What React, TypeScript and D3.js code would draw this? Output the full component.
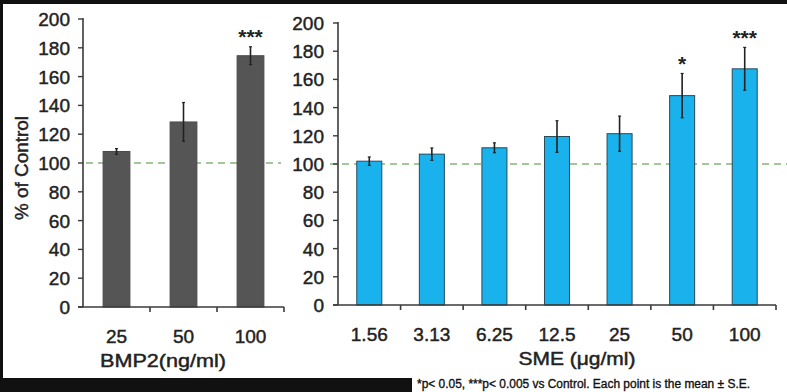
import React from "react";
import * as d3 from "d3";

// BMP2 panel
const bmpDoses = ["25", "50", "100"];
const bmpMean = [108, 128.5, 174.5];
const bmpSE = [2, 13.5, 6.2];
const bmpSig = ["", "", "***"];

// SME panel
const smeDoses = ["1.56", "3.13", "6.25", "12.5", "25", "50", "100"];
const smeMean = [102, 107, 111.5, 119.5, 121.5, 148.5, 167.5];
const smeSE = [3, 4.4, 3.5, 11.2, 12.5, 15.7, 15.2];
const smeSig = ["", "", "", "", "", "*", "***"];

const yTicks = [0, 20, 40, 60, 80, 100, 120, 140, 160, 180, 200];
const controlLevel = 100;

const W = 787;
const H = 392;
const FONT = "'Liberation Sans', Arial, sans-serif";
const INK = "#222";

type PanelProps = {
  doses: string[];
  mean: number[];
  se: number[];
  sig: string[];
  x0: number;
  x1: number;
  yTop: number;
  yBottom: number;
  barColor: string;
  barStroke: string;
  tickLabelRight: number;
  lineX0: number;
  lineX1: number;
  title: string;
  titleX: number;
  titleLength: number;
};

function Panel(p: PanelProps) {
  const y = d3.scaleLinear().domain([0, 200]).range([p.yBottom, p.yTop]);
  const x = d3.scaleBand<string>().domain(p.doses).range([p.x0, p.x1]).padding(0);
  const step = x.step();
  const barW = step * 0.4;
  const axisColor = "#3a3a3a";
  const textStyle = { stroke: INK, strokeWidth: 0.45 };
  return (
    <g>
      {/* control reference line */}
      <line
        x1={p.lineX0}
        x2={p.lineX1}
        y1={y(controlLevel)}
        y2={y(controlLevel)}
        stroke="#a3c79a"
        strokeWidth={2}
        strokeDasharray="7 5"
      />
      {p.doses.map((d, i) => {
        const cx = (x(d) as number) + step / 2;
        const top = y(p.mean[i]);
        const eTop = y(p.mean[i] + p.se[i]);
        const eBot = y(p.mean[i] - p.se[i]);
        return (
          <g key={d}>
            <rect
              x={cx - barW / 2}
              y={top}
              width={barW}
              height={y(0) - top}
              fill={p.barColor}
              stroke={p.barStroke}
              strokeWidth={1}
            />
            <line x1={cx} x2={cx} y1={eTop} y2={eBot} stroke={INK} strokeWidth={1.6} />
            <line x1={cx - 1.5} x2={cx + 1.5} y1={eTop} y2={eTop} stroke={INK} strokeWidth={1.2} />
            <line x1={cx - 1.5} x2={cx + 1.5} y1={eBot} y2={eBot} stroke={INK} strokeWidth={1.2} />
            {p.sig[i] && (
              <text
                x={cx}
                y={eTop - 15 + 0.58 * 21}
                textAnchor="middle"
                fontFamily={FONT}
                fontWeight="bold"
                fontSize={21}
                fill={INK}
              >
                {p.sig[i]}
              </text>
            )}
            <text
              x={cx}
              y={y(0) + 36}
              textAnchor="middle"
              fontFamily={FONT}
              fontSize={19}
              fill={INK}
              style={textStyle}
            >
              {d}
            </text>
          </g>
        );
      })}
      {/* y axis */}
      <line x1={p.x0} x2={p.x0} y1={y(200) - 1} y2={y(0)} stroke={axisColor} strokeWidth={1.6} />
      {yTicks.map((t) => (
        <g key={t}>
          <line x1={p.x0 - 5} x2={p.x0} y1={y(t)} y2={y(t)} stroke={axisColor} strokeWidth={1.4} />
          <text
            x={p.tickLabelRight}
            y={y(t) + 7}
            textAnchor="end"
            fontFamily={FONT}
            fontSize={19}
            fill={INK}
            style={textStyle}
          >
            {t}
          </text>
        </g>
      ))}
      {/* x axis */}
      <line x1={p.x0 - 5} x2={p.x1} y1={y(0)} y2={y(0)} stroke={axisColor} strokeWidth={1.6} />
      {p.doses.map((d) => {
        const bx = (x(d) as number) + step;
        return (
          <line key={"t" + d} x1={bx} x2={bx} y1={y(0)} y2={y(0) + 5} stroke={axisColor} strokeWidth={1.6} />
        );
      })}
      <text
        x={p.titleX}
        y={y(0) + 60}
        textAnchor="middle"
        fontFamily={FONT}
        fontSize={18}
        fill={INK}
        style={textStyle}
        textLength={p.titleLength}
        lengthAdjust="spacingAndGlyphs"
      >
        {p.title}
      </text>
    </g>
  );
}

export default function App() {
  return (
    <svg
      width={W}
      height={H}
      style={{ position: "absolute", left: 0, top: 0, display: "block" }}
    >
      <rect x={0} y={0} width={W} height={H} fill="#ffffff" />
      <Panel
        doses={bmpDoses}
        mean={bmpMean}
        se={bmpSE}
        sig={bmpSig}
        x0={83}
        x1={284}
        yTop={19}
        yBottom={307}
        barColor="#555555"
        barStroke="#4a4a4a"
        tickLabelRight={70}
        lineX0={86}
        lineX1={281}
        title="BMP2(ng/ml)"
        titleX={163}
        titleLength={126}
      />
      <Panel
        doses={smeDoses}
        mean={smeMean}
        se={smeSE}
        sig={smeSig}
        x0={338}
        x1={776}
        yTop={23}
        yBottom={305}
        barColor="#19b2ec"
        barStroke="#2a4a5a"
        tickLabelRight={324}
        lineX0={330}
        lineX1={787}
        title="SME  (μg/ml)"
        titleX={577}
        titleLength={117}
      />
      <text
        transform="translate(28,168) rotate(-90)"
        textAnchor="middle"
        fontFamily={FONT}
        fontSize={18}
        fill={INK}
        style={{ stroke: INK, strokeWidth: 0.45 }}
        textLength={104}
        lengthAdjust="spacingAndGlyphs"
      >
        % of Control
      </text>
      {/* frame bands */}
      <rect x={0} y={0} width={W} height={4} fill="#111" />
      <rect x={0} y={0} width={3} height={H} fill="#111" />
      <rect x={0} y={378} width={412} height={14} fill="#111" />
      <text
        x={417}
        y={388}
        fontFamily={FONT}
        fontSize={12}
        fill="#111"
        style={{ stroke: "#111", strokeWidth: 0.35 }}
        textLength={333}
        lengthAdjust="spacingAndGlyphs"
      >
        *p&lt; 0.05, ***p&lt; 0.005 vs Control. Each point is the mean ±  S.E.
      </text>
    </svg>
  );
}
